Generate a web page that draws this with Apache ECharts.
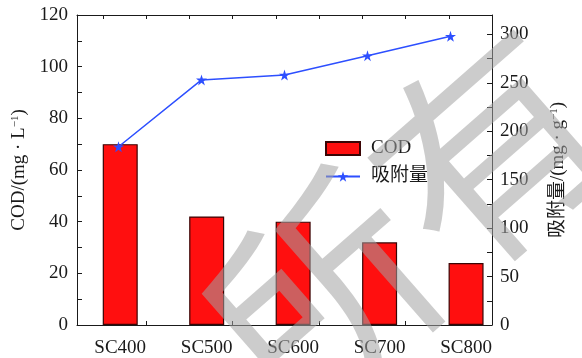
<!DOCTYPE html>
<html>
<head>
<meta charset="utf-8">
<script src="https://cdn.jsdelivr.net/npm/echarts@6/dist/echarts.min.js"></script>
<style>
  html, body { margin: 0; padding: 0; background: #fff; }
  #chart { width: 582px; height: 358px; }
</style>
</head>
<body>
<div id="chart"></div>
<script>
// Samples and measured values
const categories = ['SC400', 'SC500', 'SC600', 'SC700', 'SC800'];
const codValues = [70, 42, 40, 32, 24];            // mg·L-1
const adsorption = [184, 253, 258, 278, 298];      // mg·g-1
const codTicks = [0, 20, 40, 60, 80, 100, 120];
const adsTicks = [0, 50, 100, 150, 200, 250, 300];

const FONT = "'Liberation Serif', 'Times New Roman', 'Noto Sans CJK SC', serif";
const INK = '#1a1a1a';
const STAR = 'path://M50,0 L61.2,34.5 L97.6,34.5 L68.2,55.9 L79.4,90.5 L50,69.1 L20.6,90.5 L31.8,55.9 L2.4,34.5 L38.8,34.5 Z';

const barData = codValues.map((v, i) => [i, v]);

const chart = echarts.init(document.getElementById('chart'), null, { renderer: 'canvas' });

chart.setOption({
  animation: false,
  backgroundColor: '#fff',
  textStyle: { fontFamily: FONT },
  grid: { left: 77, right: 90, top: 15, bottom: 33, containLabel: false },
  legend: {
    orient: 'vertical',
    left: 325,
    top: 139,
    padding: 0,
    itemWidth: 34,
    itemHeight: 13,
    itemGap: 9,
    textStyle: { fontFamily: FONT, fontSize: 19, color: INK, padding: [0, 0, 0, 6] },
    data: [
      { name: 'COD', icon: 'rect' },
      { name: '吸附量' }
    ]
  },
  xAxis: [
    {
      type: 'value',
      position: 'bottom',
      min: -0.5,
      max: 4.3,
      splitLine: { show: false },
      axisLine: { show: true, onZero: false, lineStyle: { color: INK, width: 1 } },
      axisTick: { show: true, inside: true, length: 4, customValues: [0.3, 1.3, 2.3, 3.3], lineStyle: { color: INK } },
      axisLabel: {
        customValues: categories.map((c, i) => i),
        formatter: v => categories[Math.round(v)],
        color: INK, fontSize: 19, fontFamily: FONT, margin: 14
      }
    },
    {
      type: 'value',
      position: 'top',
      min: -0.5,
      max: 4.3,
      splitLine: { show: false },
      axisLine: { show: true, onZero: false, lineStyle: { color: INK, width: 1 } },
      axisTick: { show: true, inside: true, length: 4, customValues: [-0.2, 0.3, 0.8, 1.3, 1.8, 2.3, 2.8, 3.3, 3.8], lineStyle: { color: INK } },
      axisLabel: { show: false }
    },
    {
      type: 'category',
      data: categories,
      boundaryGap: true,
      show: false
    }
  ],
  yAxis: [
    {
      type: 'value',
      position: 'left',
      min: 0,
      max: 120,
      interval: 20,
      splitLine: { show: false },
      axisLine: { show: true, onZero: false, lineStyle: { color: INK, width: 1 } },
      axisTick: { show: true, inside: true, length: 5, lineStyle: { color: INK } },
      minorTick: { show: true, splitNumber: 2, length: 5, lineStyle: { color: INK } },
      axisLabel: {
        customValues: codTicks,
        color: INK, fontSize: 19, fontFamily: FONT, margin: 9
      },
      name: '{a|COD/(mg · L}{s|−1}{a|)}',
      nameLocation: 'middle',
      nameRotate: 90,
      nameGap: 47,
      nameTextStyle: {
        rich: {
          a: { fontFamily: FONT, fontSize: 19, color: INK },
          s: { fontFamily: FONT, fontSize: 11, color: INK, verticalAlign: 'top', padding: [0, 0, 8, 0] }
        }
      }
    },
    {
      type: 'value',
      position: 'right',
      min: 0,
      max: 320,
      interval: 50,
      splitLine: { show: false },
      axisLine: { show: true, onZero: false, lineStyle: { color: INK, width: 1 } },
      axisTick: { show: true, inside: true, length: 5, lineStyle: { color: INK } },
      minorTick: { show: true, splitNumber: 2, length: 5, lineStyle: { color: INK } },
      axisLabel: {
        customValues: adsTicks,
        color: INK, fontSize: 19, fontFamily: FONT, margin: 8
      },
      name: '{a|吸附量/(mg · g}{s|−1}{a|)}',
      nameLocation: 'middle',
      nameRotate: 90,
      nameGap: 57,
      nameTextStyle: {
        rich: {
          a: { fontFamily: FONT, fontSize: 19, color: INK },
          s: { fontFamily: FONT, fontSize: 11, color: INK, verticalAlign: 'top', padding: [0, 0, 8, 0] }
        }
      }
    }
  ],
  series: [
    {
      name: 'COD',
      type: 'bar',
      xAxisIndex: 0,
      yAxisIndex: 0,
      barWidth: 35,
      data: barData,
      itemStyle: { color: '#ff0f0f', borderColor: '#3a0505', borderWidth: 1.2 },
      z: 2
    },
    {
      name: '吸附量',
      type: 'line',
      xAxisIndex: 2,
      yAxisIndex: 1,
      data: adsorption,
      symbol: STAR,
      symbolSize: 11,
      lineStyle: { color: '#2d4fff', width: 1.5 },
      itemStyle: { color: '#2d4fff' },
      z: 3
    }
  ],
  graphic: [
    {
      type: 'text',
      x: 405,
      y: 222,
      rotation: 0.72,
      z: 100,
      silent: true,
      style: {
        text: '所有',
        font: "normal 222px 'Noto Sans CJK SC'",
        fill: 'rgba(163,163,163,0.55)',
        textAlign: 'center',
        textVerticalAlign: 'middle'
      }
    }
  ]
});
</script>
</body>
</html>
